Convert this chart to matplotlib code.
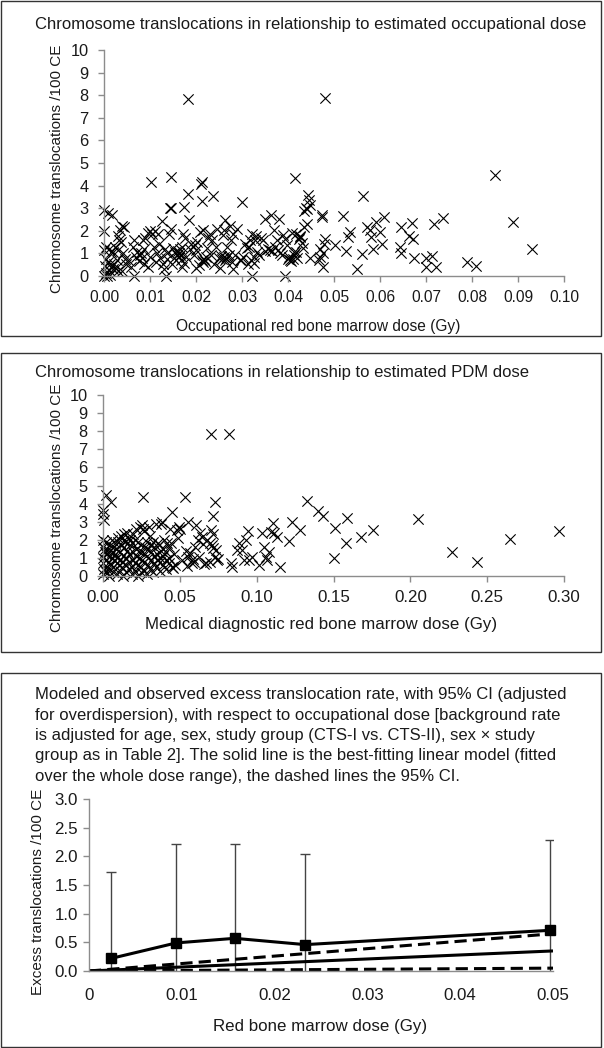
import matplotlib
matplotlib.use("Agg")
import matplotlib.pyplot as plt
from matplotlib.patches import Rectangle

plt.rcParams['font.family'] = ['Liberation Sans', 'DejaVu Sans']

# ---------------- Panel 1 data: occupational dose vs translocations ----------------
occ_dose = [
    0.0000, 0.0008, 0.0018, 0.0000, 0.0004, 0.0000, 0.0010, 0.0015, 0.0020, 0.0005,
    0.0008, 0.0012, 0.0003, 0.0015, 0.0020, 0.0010, 0.0005, 0.0012, 0.0000, 0.0006,
    0.0022, 0.0026, 0.0030, 0.0028, 0.0024, 0.0030, 0.0032, 0.0030, 0.0034, 0.0040,
    0.0044, 0.0038, 0.0042, 0.0045, 0.0048, 0.0040,
    0.0052, 0.0058, 0.0063, 0.0066, 0.0065, 0.0070, 0.0072, 0.0075, 0.0078, 0.0080,
    0.0082, 0.0084, 0.0086, 0.0088, 0.0090, 0.0095, 0.0096, 0.0100, 0.0100, 0.0102,
    0.0104,
    0.0108, 0.0110, 0.0112, 0.0116, 0.0118, 0.0120, 0.0122, 0.0126, 0.0128, 0.0130,
    0.0132, 0.0134, 0.0136, 0.0138, 0.0142, 0.0144, 0.0146, 0.0146, 0.0146, 0.0148,
    0.0150,
    0.0152, 0.0155, 0.0158, 0.0160, 0.0162, 0.0163, 0.0165, 0.0166, 0.0168, 0.0170,
    0.0170, 0.0172, 0.0174, 0.0174, 0.0176, 0.0178, 0.0182, 0.0182, 0.0184, 0.0186,
    0.0190, 0.0195, 0.0197, 0.0200, 0.0201,
    0.0203, 0.0206, 0.0208, 0.0210, 0.0212, 0.0213, 0.0214, 0.0216, 0.0216, 0.0218,
    0.0220, 0.0222, 0.0224, 0.0226, 0.0230, 0.0232, 0.0234, 0.0237, 0.0240, 0.0243,
    0.0246, 0.0250,
    0.0252, 0.0255, 0.0257, 0.0258, 0.0260, 0.0261, 0.0263, 0.0264, 0.0266, 0.0268,
    0.0270, 0.0272, 0.0274, 0.0276, 0.0278, 0.0280, 0.0280, 0.0285, 0.0290, 0.0295,
    0.0297, 0.0300,
    0.0303, 0.0306, 0.0310, 0.0312, 0.0316, 0.0318, 0.0320, 0.0322, 0.0322, 0.0325,
    0.0326, 0.0328, 0.0330, 0.0333, 0.0338, 0.0342, 0.0346, 0.0350, 0.0351,
    0.0356, 0.0360, 0.0364, 0.0366, 0.0370, 0.0372, 0.0375, 0.0378, 0.0381, 0.0383,
    0.0386, 0.0390, 0.0393, 0.0393, 0.0397, 0.0400,
    0.0402, 0.0404, 0.0406, 0.0408, 0.0410, 0.0412, 0.0414, 0.0415, 0.0418, 0.0418,
    0.0420, 0.0423, 0.0425, 0.0427, 0.0430, 0.0433, 0.0435, 0.0435, 0.0439, 0.0441,
    0.0442, 0.0444, 0.0446, 0.0448, 0.0448,
    0.0467, 0.0469, 0.0470, 0.0473, 0.0474, 0.0475, 0.0477, 0.0479, 0.0481, 0.0481,
    0.0502, 0.0519, 0.0527, 0.0530, 0.0534, 0.0551, 0.0561, 0.0564, 0.0571, 0.0579,
    0.0581, 0.0585, 0.0591, 0.0599, 0.0605, 0.0609, 0.0644, 0.0646, 0.0646, 0.0664,
    0.0669, 0.0672, 0.0673, 0.0699, 0.0700, 0.0712, 0.0717, 0.0722, 0.0736, 0.0789,
    0.0809, 0.0850, 0.0890, 0.0930,
]
occ_rate = [
    2.92, 2.78, 2.70, 2.00, 1.30, 1.15, 1.20, 1.08, 1.05, 0.75,
    0.62, 0.55, 0.45, 0.40, 0.30, 0.25, 0.15, 0.05, 0.00, 0.02,
    0.55, 0.35, 0.22, 0.70, 1.30, 1.15, 1.60, 1.75, 2.05, 2.20,
    2.15, 1.50, 1.00, 0.75, 0.55, 0.20,
    0.70, 0.40, 1.30, 1.60, 0.00, 0.85, 1.05, 0.65, 0.95, 1.00,
    0.80, 1.60, 0.55, 1.20, 1.70, 0.40, 1.90, 2.00, 0.85, 4.16,
    1.85,
    1.30, 2.00, 0.60, 1.00, 1.85, 1.40, 0.80, 2.45, 0.55, 0.30,
    1.20, 0.00, 0.75, 1.00, 1.85, 3.02, 3.00, 4.38, 2.10, 0.55,
    1.25,
    0.80, 1.05, 0.95, 1.10, 1.00, 0.85, 1.20, 0.95, 0.70, 0.40,
    1.30, 1.88, 0.56, 3.06, 1.66, 0.85, 7.81, 3.65, 2.47, 1.20,
    1.40, 0.95, 1.37, 0.35, 1.15,
    1.51, 0.50, 1.96, 4.06, 3.32, 4.16, 0.70, 2.03, 0.60, 0.75,
    0.65, 0.85, 1.25, 1.70, 1.88, 0.95, 1.59, 3.53, 0.55, 1.29,
    2.10, 0.80,
    0.35, 0.90, 0.75, 1.81, 2.03, 0.85, 0.70, 2.47, 0.80, 1.29,
    0.90, 0.95, 2.20, 1.59, 0.60, 1.88, 0.29, 0.95, 2.10, 0.70,
    0.71, 3.28,
    0.85, 1.40, 1.22, 0.55, 1.29, 1.60, 0.71, 1.88, 0.00, 0.56,
    0.85, 1.59, 1.75, 1.07, 0.95, 1.70, 1.59, 1.10, 2.54,
    1.20, 1.15, 2.69, 1.10, 2.03, 1.30, 1.59, 1.15, 2.50, 1.00,
    0.95, 1.81, 1.62, 0.00, 1.37, 0.75,
    0.85, 0.70, 0.68, 1.90, 0.74, 1.05, 0.93, 4.35, 1.07, 1.88,
    0.80, 1.62, 1.75, 1.74, 1.45, 1.22, 2.88, 2.18, 3.03, 2.32,
    2.96, 3.57, 3.35, 3.13, 0.78,
    0.71, 1.18, 0.85, 2.59, 2.69, 0.41, 1.00, 1.41, 1.62, 7.87,
    1.37, 2.66, 1.10, 1.74, 1.93, 0.32, 0.99, 3.54, 2.18, 2.03,
    1.74, 1.18, 2.38, 1.93, 1.40, 2.59, 1.29, 1.00, 2.15, 1.76,
    2.35, 1.65, 0.78, 0.81, 0.40, 0.88, 2.29, 0.41, 2.56, 0.60,
    0.44, 4.47, 2.38, 1.21,
]

# ---------------- Panel 2 data: PDM dose vs translocations ----------------
pdm_dose = [
    0.0000, 0.0000, 0.0003, 0.0000, 0.0002, 0.0004, 0.0001, 0.0000, 0.0008, 0.0012,
    0.0018, 0.0020, 0.0016, 0.0022, 0.0019, 0.0024, 0.0018, 0.0038, 0.0042, 0.0036,
    0.0044, 0.0040, 0.0046, 0.0055, 0.0052, 0.0058, 0.0060, 0.0056,
    0.0068, 0.0072, 0.0070, 0.0075, 0.0066, 0.0078, 0.0088, 0.0092, 0.0090, 0.0095,
    0.0086, 0.0098, 0.0108, 0.0112, 0.0110, 0.0115, 0.0106, 0.0118, 0.0128, 0.0132,
    0.0130, 0.0135, 0.0126, 0.0138, 0.0134, 0.0148, 0.0152, 0.0150, 0.0155, 0.0146,
    0.0158, 0.0168, 0.0172, 0.0170, 0.0175, 0.0166, 0.0178, 0.0188, 0.0192, 0.0190,
    0.0195, 0.0186, 0.0198, 0.0208, 0.0212, 0.0210, 0.0215, 0.0206, 0.0218, 0.0228,
    0.0232, 0.0230, 0.0235, 0.0226, 0.0238, 0.0248, 0.0252, 0.0250, 0.0255, 0.0246,
    0.0258, 0.0256, 0.0263, 0.0268, 0.0272, 0.0270, 0.0275, 0.0266, 0.0288, 0.0292,
    0.0290, 0.0295, 0.0286, 0.0298, 0.0308, 0.0312, 0.0310, 0.0315, 0.0306, 0.0328,
    0.0332, 0.0330, 0.0335, 0.0326, 0.0348, 0.0352, 0.0350, 0.0355, 0.0346, 0.0368,
    0.0372, 0.0370, 0.0375, 0.0366, 0.0378, 0.0388, 0.0392, 0.0390, 0.0395, 0.0386,
    0.0408, 0.0412, 0.0410, 0.0415, 0.0428, 0.0432, 0.0430, 0.0435, 0.0444, 0.0448,
    0.0449, 0.0456, 0.0469, 0.0481, 0.0494, 0.0531, 0.0556, 0.0556, 0.0576, 0.0594,
    0.0607, 0.0619, 0.0632, 0.0644, 0.0669, 0.0694, 0.0694, 0.0702, 0.0702, 0.0707,
    0.0719, 0.0719, 0.0732, 0.0732, 0.0744, 0.0817, 0.0832, 0.0840, 0.0870, 0.0882,
    0.0907, 0.0920, 0.0932, 0.0945, 0.0952, 0.0970, 0.1013, 0.1033, 0.1045, 0.1058,
    0.1070, 0.1083, 0.1095, 0.1108, 0.1113, 0.1133, 0.1153, 0.1213, 0.1233, 0.1283,
    0.1328, 0.1398, 0.1434, 0.1500, 0.1509, 0.1580, 0.1590, 0.1677, 0.1760, 0.2053,
    0.2273, 0.2436, 0.2650, 0.2970,
    0.0462, 0.0488, 0.0512, 0.0540, 0.0568, 0.0585, 0.0600, 0.0625, 0.0650, 0.0660,
    0.0680, 0.0715, 0.0738, 0.0750, 0.0502, 0.0545,
]
pdm_rate = [
    0.10, 0.70, 1.00, 1.60, 2.00, 3.10, 3.40, 3.65, 0.40, 1.30,
    0.20, 0.90, 1.50, 1.90, 4.47, 0.50, 1.20, 0.00, 0.80, 1.40,
    1.10, 0.30, 1.70, 4.11, 0.60, 1.30, 2.00, 1.00,
    0.20, 0.90, 1.60, 1.20, 0.50, 1.80, 0.10, 1.00, 0.70, 1.90,
    1.50, 2.10, 0.30, 0.90, 1.30, 1.70, 0.60, 2.20, 0.00, 0.80,
    1.10, 1.60, 0.50, 2.30, 2.00, 0.20, 1.00, 0.60, 1.40, 1.90,
    2.40, 0.40, 1.20, 0.80, 1.70, 2.10, 2.00, 0.10, 0.90, 0.50,
    1.30, 1.80, 2.30, 0.30, 1.10, 0.70, 1.50, 2.00, 2.60, 0.00,
    1.00, 0.60, 1.40, 1.90, 2.70, 0.20, 0.90, 0.50, 1.30, 1.70,
    2.60, 2.80, 4.34, 0.30, 1.20, 0.80, 1.60, 2.50, 0.10, 1.00,
    0.60, 1.50, 1.90, 2.70, 0.40, 1.30, 0.90, 1.70, 2.20, 0.20,
    1.10, 0.70, 1.60, 1.90, 0.50, 1.20, 0.90, 1.80, 2.90, 0.30,
    1.00, 0.80, 1.40, 1.70, 2.90, 0.60, 1.50, 1.10, 2.00, 3.00,
    0.40, 1.30, 0.90, 1.80, 0.70, 1.60, 1.00, 2.60, 1.80, 0.50,
    3.54, 0.42, 0.61, 2.54, 2.73, 4.38, 3.00, 1.07, 0.70, 0.79,
    2.82, 1.99, 2.36, 2.17, 0.70, 1.80, 0.79, 7.83, 2.54, 1.71,
    3.33, 1.53, 4.07, 1.07, 0.88, 7.83, 0.70, 0.52, 1.44, 1.80,
    1.44, 0.88, 1.99, 2.50, 0.88, 1.07, 0.61, 2.39, 1.62, 1.07,
    0.88, 1.34, 2.45, 2.95, 2.39, 2.17, 0.52, 1.91, 2.96, 2.54,
    4.16, 3.61, 3.31, 0.98, 2.67, 1.80, 3.19, 2.17, 2.54, 3.15,
    1.34, 0.79, 2.04, 2.49,
    1.20, 2.10, 0.90, 1.40, 1.25, 0.95, 1.60, 1.05, 1.75, 0.65,
    2.00, 2.30, 1.45, 0.95, 2.60, 0.55,
]

# ---------------- Panel 3 data: excess translocation rate ----------------
obs_dose = [0.0024, 0.0094, 0.0157, 0.0233, 0.0497]
obs_excess = [0.22, 0.49, 0.57, 0.46, 0.71]
obs_upper = [1.72, 2.21, 2.21, 2.04, 2.28]
fit_dose = [0.0, 0.05]
fit_line = [0.0, 0.35]
fit_upper = [0.0, 0.65]
fit_lower = [0.0, 0.05]

title1 = "Chromosome translocations in relationship to estimated occupational dose"
title2 = "Chromosome translocations in relationship to estimated PDM dose"
caption3 = [
    "Modeled and observed excess translocation rate, with 95% CI (adjusted",
    "for overdispersion), with respect to occupational dose [background rate",
    "is adjusted for age, sex, study group (CTS-I vs. CTS-II), sex \u00d7 study",
    "group as in Table 2]. The solid line is the best-fitting linear model (fitted",
    "over the whole dose range), the dashed lines the 95% CI.",
]
ylab12 = "Chromosome translocations /100 CE"
ylab3 = "Excess translocations /100 CE"

W, H = 604, 1048
fig = plt.figure(figsize=(W / 100, H / 100), dpi=100)
fig.patch.set_facecolor('white')

TXT = '#1a1a1a'
AX = '#8c8c8c'
FS_TITLE = 12.0


def fx(px):
    return px / W


def fy(py):
    return 1 - py / H


# panel frames
for top, bot in [(1, 336), (353, 652), (673, 1047)]:
    fig.patches.append(Rectangle((fx(1), fy(bot)), fx(600), (bot - top) / H,
                                 transform=fig.transFigure, fill=False,
                                 edgecolor='#333333', linewidth=1.0))


def style_axes(ax, fs_x, fs_y):
    for s in ['top', 'right']:
        ax.spines[s].set_visible(False)
    for s in ['left', 'bottom']:
        ax.spines[s].set_color(AX)
        ax.spines[s].set_linewidth(1.0)
    ax.tick_params(axis='both', colors=AX, labelcolor=TXT,
                   direction='out', length=4, width=1.0)
    ax.tick_params(axis='x', labelsize=fs_x)
    ax.tick_params(axis='y', labelsize=fs_y, pad=7)


def axes_px(left, right, top, bottom):
    return fig.add_axes([fx(left), fy(bottom), (right - left) / W, (bottom - top) / H])


# ---------- Panel 1 ----------
ax1 = axes_px(104, 564, 50, 276)
ax1.scatter(occ_dose, occ_rate, marker='x', s=55, color='black', linewidths=0.8, clip_on=False)
ax1.set_xlim(0, 0.10)
ax1.set_ylim(0, 10)
ax1.set_xticks([i / 100 for i in range(11)])
ax1.set_xticklabels([f"{i / 100:.2f}" for i in range(11)])
ax1.set_yticks(range(11))
style_axes(ax1, 11.2, 11.8)
ax1.tick_params(axis='x', pad=6)
fig.text(fx(318), fy(326), "Occupational red bone marrow dose (Gy)", fontsize=11.2,
         color=TXT, ha='center', va='center')
fig.text(fx(57), fy(169), ylab12, fontsize=11.0, color=TXT, ha='center', va='center',
         rotation=90)
fig.text(fx(35), fy(24), title1, fontsize=FS_TITLE, color=TXT, ha='left', va='center')

# ---------- Panel 2 ----------
ax2 = axes_px(103, 564, 395, 576)
ax2.scatter(pdm_dose, pdm_rate, marker='x', s=55, color='black', linewidths=0.8, clip_on=False)
ax2.set_xlim(0, 0.30)
ax2.set_ylim(0, 10)
ax2.set_xticks([i * 0.05 for i in range(7)])
ax2.set_xticklabels([f"{i * 0.05:.2f}" for i in range(7)])
ax2.set_yticks(range(11))
style_axes(ax2, 12.2, 11.8)
ax2.tick_params(axis='x', pad=6)
fig.text(fx(321), fy(624), "Medical diagnostic red bone marrow dose (Gy)", fontsize=12.2,
         color=TXT, ha='center', va='center')
fig.text(fx(57), fy(508), ylab12, fontsize=11.0, color=TXT, ha='center', va='center',
         rotation=90)
fig.text(fx(35), fy(372), title2, fontsize=FS_TITLE, color=TXT, ha='left', va='center')

# ---------- Panel 3 ----------
for i, line in enumerate(caption3):
    fig.text(fx(35), fy(695 + i * 20.3), line, fontsize=FS_TITLE, color=TXT,
             ha='left', va='center')

ax3 = axes_px(89, 553, 799, 971)
ax3.vlines(obs_dose, 0, obs_upper, color='#444444', linewidth=1.0)
ax3.scatter(obs_dose, obs_upper, marker='_', s=45, color='#444444', linewidths=1.0)
ax3.plot(fit_dose, fit_line, color='black', linewidth=2.2, solid_capstyle='butt')
ax3.plot(fit_dose, fit_upper, color='black', linewidth=2.2, linestyle=(0, (4, 2)))
ax3.plot(fit_dose, fit_lower, color='black', linewidth=2.2, linestyle=(0, (4, 2)))
ax3.plot(obs_dose, obs_excess, color='black', linewidth=2.2, marker='s', markersize=7.5,
         clip_on=False)
ax3.set_xlim(0, 0.05)
ax3.set_ylim(0, 3.0)
ax3.set_yticks([0.0, 0.5, 1.0, 1.5, 2.0, 2.5, 3.0])
ax3.set_yticklabels([f"{v:.1f}" for v in [0.0, 0.5, 1.0, 1.5, 2.0, 2.5, 3.0]])
ax3.set_xticks([0, 0.01, 0.02, 0.03, 0.04, 0.05])
ax3.set_xticklabels(["0", "0.01", "0.02", "0.03", "0.04", "0.05"])
style_axes(ax3, 12.2, 12.2)
ax3.tick_params(axis='y', pad=4)
ax3.tick_params(axis='x', length=0, pad=12)
fig.text(fx(320), fy(1026), "Red bone marrow dose (Gy)", fontsize=12.2,
         color=TXT, ha='center', va='center')
fig.text(fx(38), fy(892), ylab3, fontsize=11.0, color=TXT, ha='center', va='center',
         rotation=90)

fig.savefig("out.png", dpi=100, facecolor='white')
